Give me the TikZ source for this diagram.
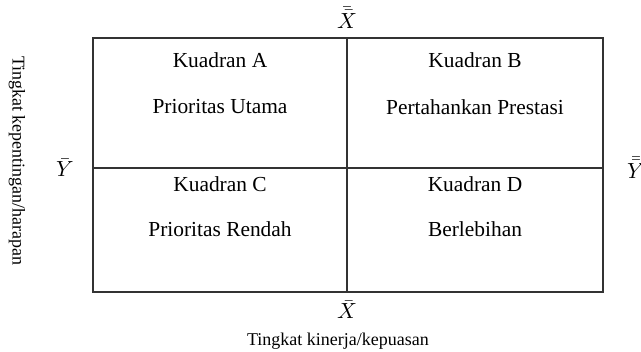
\documentclass[tikz,border=0pt]{standalone}
\usepackage{fontspec}
\setmainfont{Liberation Serif}
\usetikzlibrary{positioning, calc}
\tikzstyle{quadtext} = [font=\fontsize{10.7}{13}\selectfont, inner sep=0pt]
\tikzstyle{axistext} = [font=\fontsize{9}{11}\selectfont, inner sep=0pt]
\tikzstyle{meanlabel} = [font=\fontsize{10.5}{12}\selectfont, inner sep=0pt]
\tikzstyle{gridline} = [line width=0.75pt, draw=black!80]

\begin{document}
\begin{tikzpicture}[x=0.5pt, y=-0.5pt]
  \useasboundingbox (0,0) rectangle (641,352);
  % Frame
  \coordinate (tl) at (93,38);
  \coordinate (br) at (603,292);
  \coordinate (top) at (347,38);
  \coordinate (bot) at (347,292);
  \coordinate (lft) at (93,168);
  \coordinate (rgt) at (603,168);
  \draw[gridline](tl) rectangle (br);
  \draw[gridline](top) -- (bot);
  \draw[gridline](lft) -- (rgt);

  % Quadrants
  \node[quadtext](qa) at (220,60){Kuadran A};
  \node[quadtext, below=1.55em of qa](qat){Prioritas Utama};
  \node[quadtext](qb) at (475,60){Kuadran B};
  \node[quadtext, below=1.55em of qb](qbt){Pertahankan Prestasi};
  \node[quadtext](qc) at (220,184){Kuadran C};
  \node[quadtext, below=1.45em of qc](qct){Prioritas Rendah};
  \node[quadtext](qd) at (475,184){Kuadran D};
  \node[quadtext, below=1.45em of qd](qdt){Berlebihan};

  % Means
  \node[meanlabel](xtop) at (347,18){$\bar{\bar{X}}$};
  \node[meanlabel](xbot) at (347,310){$\bar{X}$};
  \node[meanlabel](ybar) at (65,168){$\bar{Y}$};
  \node[meanlabel](ytwo) at (636,168){$\bar{\bar{Y}}$};

  % Axis labels
  \node[axistext](xlab) at (338,341){Tingkat kinerja/kepuasan};
  \node[axistext, rotate=-90](ylab) at (17,161){Tingkat kepentingan/harapan};
\end{tikzpicture}
\end{document}
